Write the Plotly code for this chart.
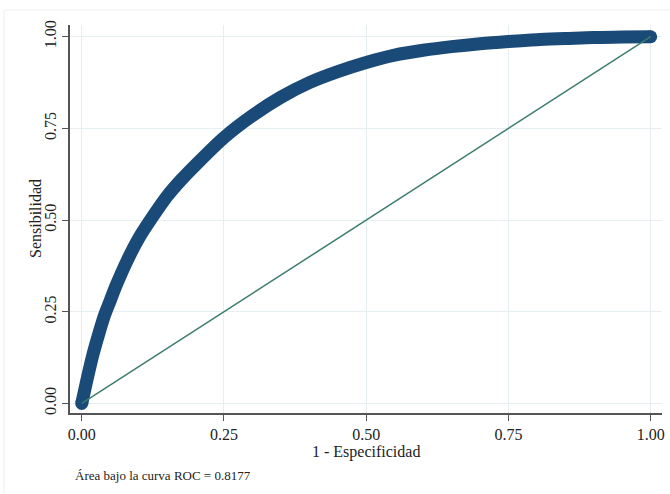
import plotly.graph_objects as go

# ROC curve points
fpr = [0.0, 0.005, 0.01, 0.02, 0.03, 0.04, 0.05, 0.06, 0.08, 0.10,
       0.125, 0.15, 0.175, 0.20, 0.25, 0.30, 0.35, 0.40, 0.45, 0.50,
       0.55, 0.60, 0.65, 0.70, 0.75, 0.80, 0.85, 0.90, 0.95, 1.0]
tpr = [0.0, 0.035, 0.07, 0.135, 0.19, 0.24, 0.28, 0.32, 0.39, 0.45,
       0.51, 0.565, 0.61, 0.65, 0.725, 0.785, 0.835, 0.875, 0.905, 0.93,
       0.95, 0.963, 0.973, 0.981, 0.987, 0.992, 0.995, 0.998, 0.999, 1.0]

ref_x = [0.0, 1.0]
ref_y = [0.0, 1.0]

tick_vals = [0, 0.25, 0.5, 0.75, 1.0]
tick_text = ["0.00", "0.25", "0.50", "0.75", "1.00"]

x_title = "1 - Especificidad"
y_title = "Sensibilidad"
note = "Área bajo la curva ROC = 0.8177"

navy = "#1a4a78"
teal = "#3c7d6e"
grid = "#e6eef1"
axis_col = "#555555"
font_family = "Liberation Serif, Times New Roman, serif"

fig = go.Figure()
fig.add_trace(go.Scatter(
    x=fpr, y=tpr, mode="lines",
    line=dict(color=navy, width=13, shape="spline", smoothing=0.8),
    hoverinfo="skip", showlegend=False, cliponaxis=False))
fig.add_trace(go.Scatter(
    x=[fpr[0], fpr[-1]], y=[tpr[0], tpr[-1]], mode="markers",
    marker=dict(color=navy, size=13),
    hoverinfo="skip", showlegend=False, cliponaxis=False))
fig.add_trace(go.Scatter(
    x=ref_x, y=ref_y, mode="lines",
    line=dict(color=teal, width=1.5),
    hoverinfo="skip", showlegend=False, cliponaxis=False))

axis_common = dict(
    tickvals=tick_vals, ticktext=tick_text, automargin=False,
    showgrid=True, gridcolor=grid, gridwidth=1,
    zeroline=False, showline=True, linecolor=axis_col, linewidth=1.5,
    ticks="outside", ticklen=6, tickcolor=axis_col, tickwidth=1.2,
    tickfont=dict(family=font_family, size=16, color="#222222"),
)

fig.update_layout(
    width=670, height=494,
    margin=dict(l=70, r=8, t=25, b=81),
    paper_bgcolor="white", plot_bgcolor="white",
    font=dict(family=font_family, color="#222222"),
    xaxis=dict(range=[-0.0206, 1.0199], **axis_common),
    yaxis=dict(range=[-0.026, 1.032], tickangle=-90, **axis_common),
    annotations=[
        dict(text=x_title, xref="paper", yref="paper", x=0.5, y=0,
             xanchor="center", yanchor="middle", yshift=-39, showarrow=False,
             font=dict(family=font_family, size=16, color="#222222")),
        dict(text=y_title, xref="paper", yref="paper", x=0, y=0.5,
             xanchor="center", yanchor="middle", xshift=-35, textangle=-90,
             showarrow=False,
             font=dict(family=font_family, size=16, color="#222222")),
        dict(text=note, xref="paper", yref="paper", x=0, y=0,
             xanchor="left", yanchor="middle", xshift=3, yshift=-62,
             showarrow=False,
             font=dict(family=font_family, size=13, color="#222222")),
    ],
    shapes=[
        dict(type="rect", xref="paper", yref="paper",
             x0=(4 - 70) / 592, x1=(690 - 70) / 592,
             y0=(413 - 510) / 388, y1=(413 - 10) / 388,
             line=dict(color="#eeeeee", width=1), layer="below"),
    ],
)

fig.write_html("out.html",
               config={"displayModeBar": False},
               post_script="document.body.style.margin='0px';document.body.style.overflow='hidden';")
